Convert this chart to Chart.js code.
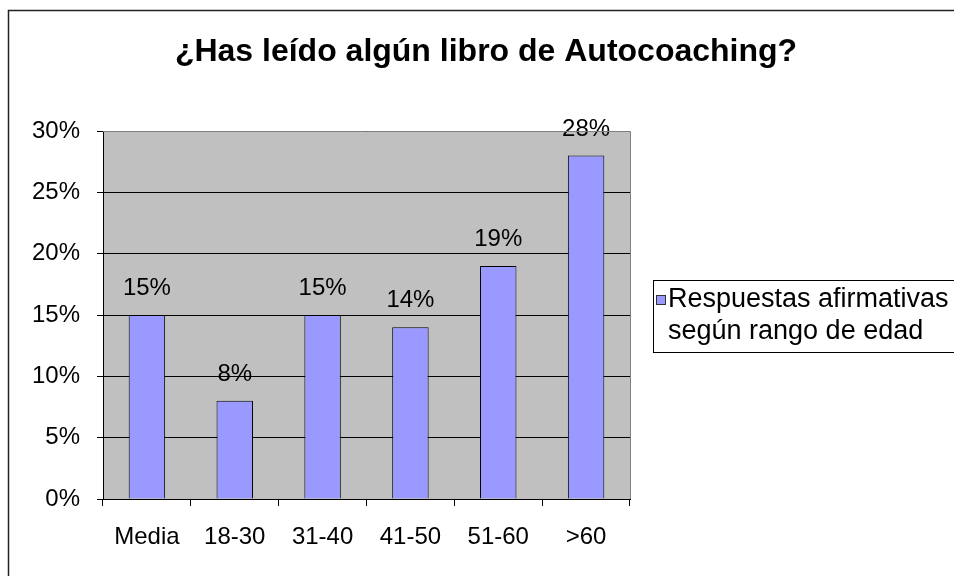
<!DOCTYPE html>
<html>
<head>
<meta charset="utf-8">
<script src="https://cdn.jsdelivr.net/npm/chart.js@4.4.0/dist/chart.umd.min.js"></script>
<style>
  html, body { margin: 0; padding: 0; background: #fff; }
  #wrap { width: 954px; height: 576px; }
</style>
</head>
<body>
<div id="wrap"><canvas id="chart" width="954" height="576"></canvas></div>
<script>
const chartTitle = '¿Has leído algún libro de Autocoaching?';
const categories = ['Media', '18-30', '31-40', '41-50', '51-60', '>60'];
const values = [15, 8, 15, 14, 19, 28];
const yTicks = [0, 5, 10, 15, 20, 25, 30];
const seriesLabel = ['Respuestas afirmativas', 'según rango de edad'];

const FONT = '"Liberation Sans", Arial, sans-serif';

// background, outer frame, title and legend are drawn by hand like the Excel original
const excelLook = {
    id: 'excelLook',
    beforeDraw(chart) {
        const ctx = chart.ctx;
        const a = chart.chartArea;
        ctx.save();
        ctx.fillStyle = '#fff';
        ctx.fillRect(0, 0, chart.width, chart.height);
        ctx.fillStyle = '#c0c0c0';
        ctx.fillRect(a.left, a.top, a.right - a.left, a.bottom - a.top);

        ctx.strokeStyle = '#222';
        ctx.lineWidth = 1.5;
        ctx.beginPath();
        ctx.moveTo(8.5, chart.height);
        ctx.lineTo(8.5, 10.5);
        ctx.lineTo(chart.width, 10.5);
        ctx.stroke();

        ctx.fillStyle = '#000';
        ctx.font = 'bold 32px ' + FONT;
        ctx.textAlign = 'center';
        ctx.textBaseline = 'alphabetic';
        ctx.fillText(chartTitle, 486, 61);
        ctx.restore();
    },
    afterDraw(chart) {
        const ctx = chart.ctx;
        const a = chart.chartArea;
        ctx.save();
        // grey plot border on top and right
        ctx.strokeStyle = '#808080';
        ctx.lineWidth = 1;
        ctx.beginPath();
        ctx.moveTo(a.left, Math.round(a.top) + 0.5);
        ctx.lineTo(Math.round(a.right) + 0.5, Math.round(a.top) + 0.5);
        ctx.lineTo(Math.round(a.right) + 0.5, a.bottom);
        ctx.stroke();

        // legend
        ctx.strokeStyle = '#000';
        ctx.strokeRect(653.5, 280.5, 310, 72);
        ctx.fillStyle = '#9999ff';
        ctx.fillRect(656, 295, 10, 10);
        ctx.strokeStyle = '#333';
        ctx.strokeRect(656.5, 295.5, 9, 9);
        ctx.fillStyle = '#000';
        ctx.font = '27px ' + FONT;
        ctx.textAlign = 'left';
        ctx.textBaseline = 'alphabetic';
        ctx.fillText(seriesLabel[0], 668, 307);
        ctx.fillText(seriesLabel[1], 668, 339);
        ctx.restore();
    },
    afterDatasetsDraw(chart) {
        const ctx = chart.ctx;
        const meta = chart.getDatasetMeta(0);
        ctx.save();
        ctx.fillStyle = '#000';
        ctx.font = '24px ' + FONT;
        ctx.textAlign = 'center';
        ctx.textBaseline = 'alphabetic';
        meta.data.forEach((bar, i) => {
            ctx.fillText(values[i] + '%', bar.x, bar.y - 20);
        });
        ctx.restore();
    }
};

new Chart(document.getElementById('chart'), {
    type: 'bar',
    data: {
        labels: categories,
        datasets: [{
            label: seriesLabel.join(' '),
            data: values,
            backgroundColor: '#9999ff',
            borderColor: '#000',
            borderWidth: 1,
            barPercentage: 0.415,
            categoryPercentage: 1
        }]
    },
    options: {
        responsive: false,
        animation: false,
        devicePixelRatio: 1,
        layout: { padding: { top: 131, right: 324, bottom: 0, left: 0 } },
        plugins: {
            legend: { display: false },
            title: { display: false },
            tooltip: { enabled: false }
        },
        scales: {
            x: {
                afterFit(scale) { scale.height = 77; },
                grid: {
                    offset: true,
                    drawOnChartArea: false,
                    tickLength: 7,
                    color: '#000'
                },
                border: { color: '#000', width: 1 },
                ticks: {
                    color: '#000',
                    padding: 17,
                    font: { family: FONT, size: 24 }
                }
            },
            y: {
                min: 0,
                max: 30,
                afterFit(scale) { scale.width = 103; },
                afterBuildTicks(scale) {
                    scale.ticks = yTicks.map(v => ({ value: v }));
                },
                grid: {
                    color: '#000',
                    tickColor: '#000',
                    tickLength: 6
                },
                border: { color: '#000', width: 1 },
                ticks: {
                    color: '#000',
                    padding: 17,
                    font: { family: FONT, size: 24 },
                    callback: v => v + '%'
                }
            }
        }
    },
    plugins: [excelLook]
});
</script>
</body>
</html>
